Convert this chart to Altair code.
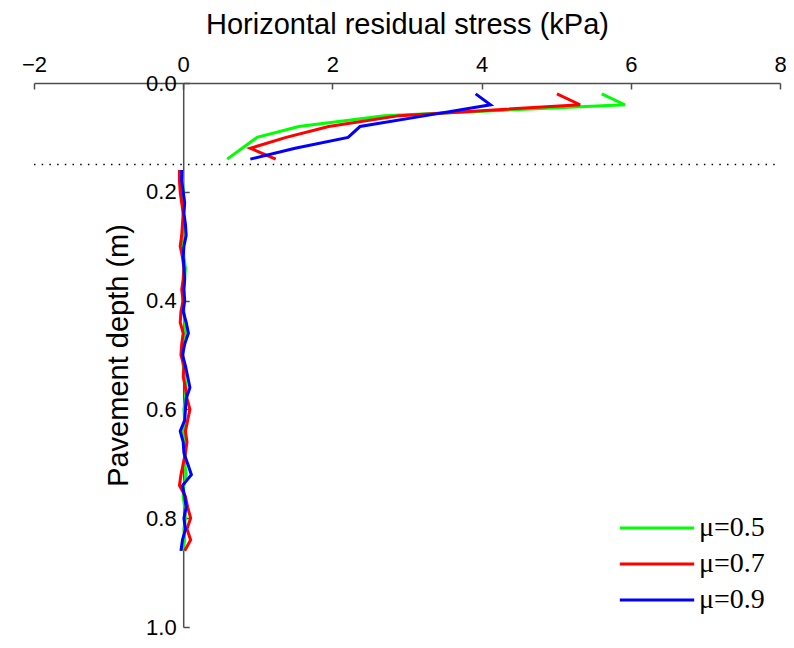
import altair as alt
import pandas as pd

series = ["μ=0.5", "μ=0.7", "μ=0.9"]
colors = ["#00ff00", "#ff0000", "#0000ff"]

# surface layer (upper segment)
depth_top = [0.02, 0.04, 0.06, 0.08, 0.10, 0.12, 0.14]
top_05 = [5.61, 5.92, 2.70, 1.55, 0.99, 0.79, 0.59]
top_07 = [5.01, 5.32, 2.90, 1.95, 1.38, 0.90, 1.24]
top_09 = [3.92, 4.12, 3.25, 2.37, 2.21, 1.50, 0.90]

# lower segment
depth_base = [0.16, 0.18, 0.20, 0.22, 0.24, 0.26, 0.28, 0.30, 0.32, 0.34, 0.36, 0.38,
              0.40, 0.42, 0.44, 0.46, 0.48, 0.50, 0.52, 0.54, 0.56, 0.58, 0.60, 0.62,
              0.64, 0.66, 0.68, 0.70, 0.72, 0.74, 0.76, 0.78, 0.80, 0.82, 0.84, 0.86]
base_05 = [-0.02, -0.01, 0.00, 0.01, 0.00, 0.02, 0.01, 0.00, 0.01, 0.03, 0.02, 0.00,
           -0.01, 0.01, 0.02, 0.03, 0.01, -0.01, 0.00, 0.02, 0.04, 0.03, 0.01, 0.02,
           0.00, 0.01, 0.03, 0.02, 0.04, 0.01, 0.00, 0.02, 0.03, 0.01, 0.02, 0.00]
base_07 = [-0.05, -0.05, -0.04, -0.02, 0.00, -0.01, -0.02, -0.04, -0.01, 0.01, 0.00, -0.02,
           0.00, -0.03, -0.04, 0.00, -0.02, -0.03, 0.01, 0.00, 0.03, 0.05, 0.09, 0.06,
           0.03, 0.05, 0.03, 0.00, -0.03, -0.05, 0.03, 0.06, 0.10, 0.05, 0.10, 0.02]
base_09 = [-0.02, -0.02, 0.00, 0.02, 0.01, 0.03, 0.04, 0.01, 0.00, 0.01, 0.02, 0.01,
           0.02, 0.00, 0.04, 0.07, 0.02, -0.01, 0.03, 0.06, 0.09, 0.04, 0.03, 0.02,
           -0.04, 0.00, 0.01, 0.06, 0.11, -0.01, 0.02, 0.04, 0.01, 0.03, -0.01, -0.03]

boundary_depth = [0.15]
x_ticks = [-2, 0, 2, 4, 6, 8]
y_ticks = [0.0, 0.2, 0.4, 0.6, 0.8, 1.0]

rows = []
for s, top, base in zip(series, [top_05, top_07, top_09], [base_05, base_07, base_09]):
    for i, (d, v) in enumerate(zip(depth_top, top)):
        rows.append({"series": s, "segment": s + "_top", "depth": d, "stress": v, "idx": i})
    for i, (d, v) in enumerate(zip(depth_base, base)):
        rows.append({"series": s, "segment": s + "_base", "depth": d, "stress": v, "idx": i})
df = pd.DataFrame(rows)

W, H = 746, 544
AX = "#4d4d4d"
xscale = alt.Scale(domain=[x_ticks[0], x_ticks[-1]], nice=False, zero=False)
yscale = alt.Scale(domain=[y_ticks[0], y_ticks[-1]], reverse=True, nice=False, zero=False)

x_axis = alt.Axis(orient="top", values=x_ticks, title="Horizontal residual stress (kPa)",
                  tickSize={"expr": "-6"}, labelPadding=13, labelFlush=False, labelOverlap=False,
                  labelFontSize=22, titleFontSize=29, titlePadding=14, grid=False,
                  domainColor=AX, tickColor=AX, domainWidth=1.5, tickWidth=1.5)
y_axis = alt.Axis(orient="left", offset=-W * 0.2, values=y_ticks, format=".1f",
                  title="Pavement depth (m)",
                  tickSize={"expr": "-6"}, labelPadding=13, labelFlush=False, labelOverlap=False,
                  labelFontSize=22, titleFontSize=29, titlePadding=12, grid=False,
                  domainColor=AX, tickColor=AX, domainWidth=1.5, tickWidth=1.5)

legend = alt.Legend(title=None, orient="none", legendX=609, legendY=431,
                    symbolType="M-3.1,0H3.1", symbolSize=576, symbolStrokeWidth=3,
                    labelFont="Liberation Serif", labelFontSize=28, labelColor="black",
                    labelOffset=28, rowPadding=8)

rule_df = pd.DataFrame({"depth": boundary_depth, "x0": [x_ticks[0]], "x1": [x_ticks[-1]]})
rule = alt.Chart(rule_df).mark_rule(color="black", strokeDash=[1.5, 6.2], strokeWidth=1.5).encode(
    y=alt.Y("depth:Q", scale=yscale, axis=y_axis),
    x=alt.X("x0:Q", scale=xscale, axis=x_axis),
    x2="x1:Q",
)

layers = [rule]
for s in series:
    layers.append(
        alt.Chart(df).transform_filter(alt.datum.series == s).mark_line(strokeWidth=3).encode(
            x=alt.X("stress:Q", scale=xscale, axis=x_axis),
            y=alt.Y("depth:Q", scale=yscale, axis=y_axis),
            color=alt.Color("series:N", scale=alt.Scale(domain=series, range=colors), legend=legend),
            detail="segment:N",
            order="idx:Q",
        )
    )

chart = alt.layer(*layers).properties(
    width=W, height=H,
    autosize=alt.AutoSizeParams(type="none"),
    padding={"left": 26, "top": 75, "right": 6, "bottom": 12},
).configure_view(stroke=None).configure_axis(
    labelFont="Liberation Sans", titleFont="Liberation Sans", labelColor="black",
    titleColor="black", titleFontWeight="normal"
)

chart.save("out.html", embed_options={"renderer": "svg", "actions": False})
